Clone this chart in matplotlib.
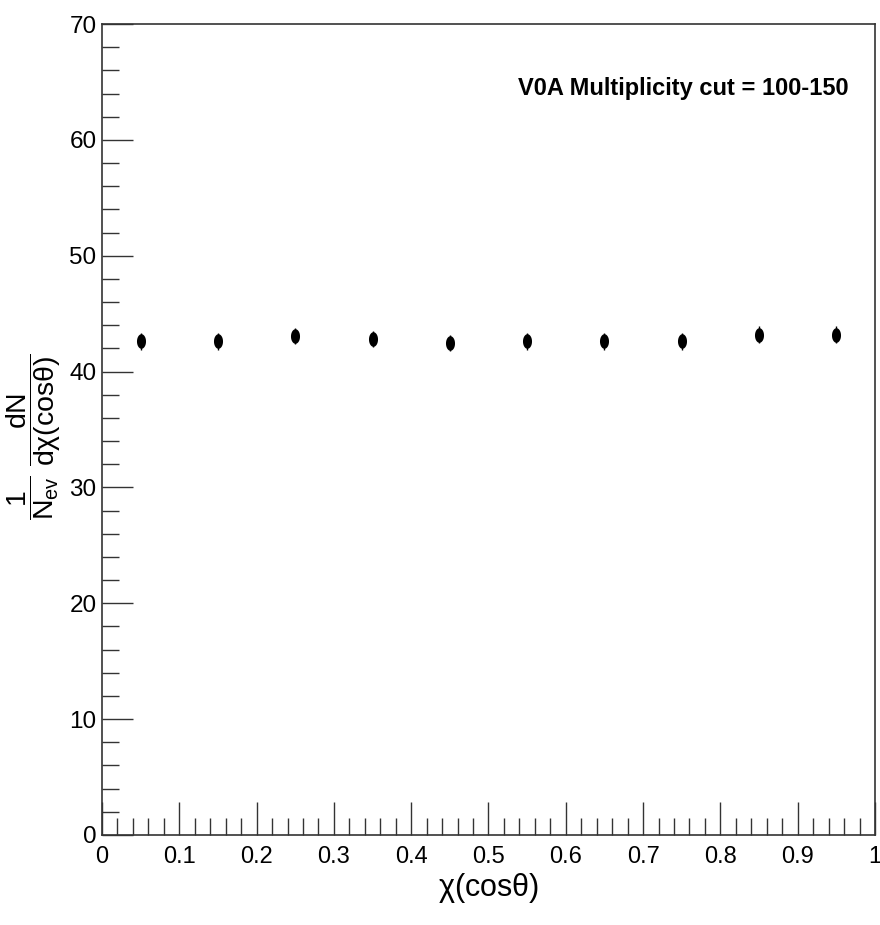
import matplotlib
matplotlib.use("Agg")
import matplotlib.pyplot as plt
import numpy as np
from matplotlib.path import Path
from matplotlib.ticker import MultipleLocator

plt.rcParams['font.family'] = ['Liberation Sans', 'DejaVu Sans']
plt.rcParams['mathtext.fontset'] = 'custom'
plt.rcParams['mathtext.rm'] = 'Liberation Sans'
plt.rcParams['mathtext.it'] = 'Liberation Sans'
plt.rcParams['mathtext.sf'] = 'Liberation Sans'

# data
x_centers = [0.05, 0.15, 0.25, 0.35, 0.45, 0.55, 0.65, 0.75, 0.85, 0.95]
y_values = [42.6, 42.6, 43.05, 42.8, 42.5, 42.6, 42.6, 42.6, 43.2, 43.2]
y_errors = [0.7, 0.7, 0.7, 0.7, 0.7, 0.7, 0.7, 0.7, 0.7, 0.7]
x_ticks = [0, 0.1, 0.2, 0.3, 0.4, 0.5, 0.6, 0.7, 0.8, 0.9, 1]
x_tick_labels = ["0", "0.1", "0.2", "0.3", "0.4", "0.5", "0.6", "0.7", "0.8", "0.9", "1"]
y_ticks = [0, 10, 20, 30, 40, 50, 60, 70]
y_tick_labels = ["0", "10", "20", "30", "40", "50", "60", "70"]
annotation = "V0A Multiplicity cut = 100-150"

fig = plt.figure(figsize=(8.8, 9.25), dpi=100)
ax = fig.add_axes([0.1159, 0.0973, 0.8784, 0.8767])

t = np.linspace(0, 2*np.pi, 40)
ell = Path(np.column_stack([0.62*np.cos(t), np.sin(t)]), closed=True)

ax.errorbar(x_centers, y_values, yerr=y_errors, fmt='none', ecolor='black', elinewidth=1.0)
ax.plot(x_centers, y_values, linestyle='none', marker=ell, markersize=10.5,
        color='black', markeredgewidth=0)

ax.set_xlim(0, 1)
ax.set_ylim(0, 70)
ax.set_xticks(x_ticks)
ax.set_xticklabels(x_tick_labels)
ax.set_yticks(y_ticks)
ax.set_yticklabels(y_tick_labels)
ax.xaxis.set_minor_locator(MultipleLocator(0.02))
ax.yaxis.set_minor_locator(MultipleLocator(2))
ax.tick_params(which='both', direction='in', top=False, right=False,
               width=1.0, color='#333333')
ax.tick_params(which='major', axis='x', length=24, pad=8, labelsize=17)
ax.tick_params(which='minor', axis='x', length=12)
ax.tick_params(which='major', axis='y', length=22, pad=4, labelsize=17.5)
ax.tick_params(which='minor', axis='y', length=12)
for s in ax.spines.values():
    s.set_linewidth(1.2)
    s.set_color('#333333')

ax.set_xlabel(r"$\chi$(cos$\theta$)", fontsize=22, labelpad=2)
fig.text(0.038, 0.528,
         r"$\dfrac{1}{\mathrm{N_{ev}}}\ \dfrac{\mathrm{dN}}{\mathrm{d}\chi\mathrm{(cos}\theta\mathrm{)}}$",
         rotation=90, fontsize=20.5, ha='center', va='center')

ax.text(0.966, 0.92, annotation, transform=ax.transAxes, ha='right', va='center',
        fontsize=17, fontweight='bold')

fig.savefig("out.png", dpi=100)
